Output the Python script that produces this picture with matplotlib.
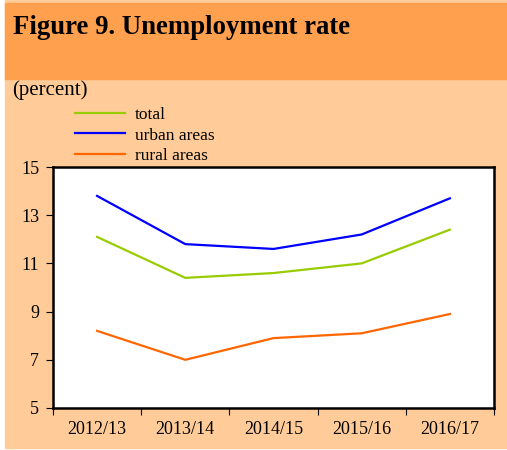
import numpy as np
import matplotlib.pyplot as plt
from matplotlib.patches import Rectangle

plt.rcParams['font.family'] = ['Liberation Serif', 'DejaVu Serif']

# data
years = ["2012/13", "2013/14", "2014/15", "2015/16", "2016/17"]
total = [12.1, 10.4, 10.6, 11.0, 12.4]
urban = [13.8, 11.8, 11.6, 12.2, 13.7]
rural = [8.2, 7.0, 7.9, 8.1, 8.9]

W, H = 507, 450
fig = plt.figure(figsize=(W / 100, H / 100), dpi=100)
fig.patch.set_facecolor("white")

# background panels (peach body, orange title band)
fig.add_artist(Rectangle((5 / W, 2 / H), 1 - 5 / W, 1 - 2 / H,
                         transform=fig.transFigure, color="#FFCC99", zorder=0))
fig.add_artist(Rectangle((5 / W, 1 - 79 / H), 1 - 5 / W, 76 / H,
                         transform=fig.transFigure, color="#FFA04F", zorder=0))

fig.text(13 / W, 1 - 28 / H, "Figure 9. Unemployment rate", fontsize=19.3,
         fontweight="bold", va="center", ha="left")
fig.text(12 / W, 1 - 90 / H, "(percent)", fontsize=15, va="center", ha="left")

ax = fig.add_axes([53 / W, 1 - 408 / H, (494 - 53) / W, (408 - 167) / H])
ax.set_facecolor("white")

x = np.arange(len(years))
ax.plot(x, total, color="#99CC00", lw=1.6, label="total")
ax.plot(x, urban, color="#0000FF", lw=1.6, label="urban areas")
ax.plot(x, rural, color="#FF6600", lw=1.6, label="rural areas")

ax.set_xlim(-0.5, len(years) - 0.5)
ax.set_ylim(5, 15)
ax.set_yticks([5, 7, 9, 11, 13, 15])
ax.set_xticks(np.arange(-0.5, len(years)), minor=False)
ax.set_xticklabels([])
ax.set_xticks(x, minor=True)
ax.set_xticklabels(years, minor=True)
ax.tick_params(axis="x", which="minor", length=0, labelsize=13, pad=9)
ax.tick_params(axis="x", which="major", length=5, width=0.8, direction="out")
ax.tick_params(axis="y", length=5, width=0.8, direction="out", labelsize=13, pad=5)
for s in ax.spines.values():
    s.set_linewidth(1.8)

leg = ax.legend(loc="upper left", bbox_to_anchor=(66 / W, 1 - 98 / H),
                bbox_transform=fig.transFigure, frameon=False, fontsize=12.5,
                handlelength=2.9, handletextpad=0.55, labelspacing=0.26,
                borderpad=0)

fig.savefig("out.png", dpi=100, facecolor=fig.get_facecolor())
